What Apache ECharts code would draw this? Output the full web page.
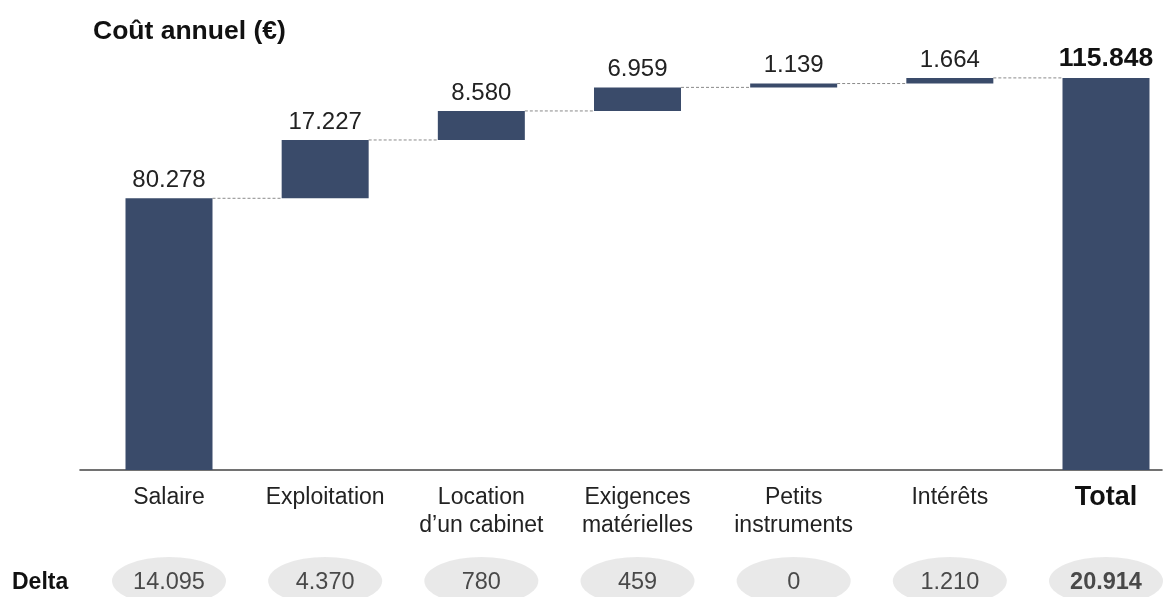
<!DOCTYPE html>
<html>
<head>
<meta charset="utf-8">
<script src="https://cdn.jsdelivr.net/npm/echarts@6/dist/echarts.min.js"></script>
<style>html,body{margin:0;padding:0;background:#fff}#c{width:1167px;height:597px}</style>
</head>
<body>
<div id="c"></div>
<script>
var categories = ["Salaire", "Exploitation", "Location\nd’un cabinet", "Exigences\nmatérielles", "Petits\ninstruments", "Intérêts", "Total"];
var increments = [80278, 17227, 8580, 6959, 1139, 1664];
var totalValue = 115848;
var deltas = [14095, 4370, 780, 459, 0, 1210, 20914];

function fmt(v) { return String(v).replace(/\B(?=(\d{3})+(?!\d))/g, "."); }

var FONT = "'Liberation Sans', Arial, sans-serif";
var BAR = "#3a4b6a";

var base = [], visible = [], tops = [];
var cum = 0;
for (var i = 0; i < increments.length; i++) {
  base.push(cum);
  visible.push(increments[i]);
  cum += increments[i];
  tops.push(cum);
}
base.push(0);
visible.push({ value: totalValue, label: { fontWeight: "bold", fontSize: 26.5, color: "#111" } });

var connectors = [];
for (var j = 0; j < tops.length; j++) connectors.push([j, tops[j]]);

var catData = categories.map(function (c, k) {
  if (k === categories.length - 1) return { value: c, textStyle: { fontWeight: "bold", fontSize: 27, color: "#111" } };
  return c;
});

var deltaData = deltas.map(function (d, k) {
  var item = { value: [k, 0.5], label: { formatter: fmt(d) } };
  if (k === deltas.length - 1) item.label.fontWeight = "bold";
  return item;
});

var chart = echarts.init(document.getElementById("c"), null, { renderer: "canvas" });
chart.setOption({
  animation: false,
  textStyle: { fontFamily: FONT },
  title: [
    { text: "Coût annuel (€)", left: 93, top: 18, padding: 0, textStyle: { fontFamily: FONT, fontSize: 26.5, fontWeight: "bold", color: "#111" } },
    { text: "Delta", left: 12, top: 571, padding: 0, textStyle: { fontFamily: FONT, fontSize: 23, fontWeight: "bold", color: "#111" } }
  ],
  grid: [
    { left: 169, width: 937, top: 30, height: 440 },
    { left: 169, width: 937, top: 571, height: 20 },
    { left: 80, width: 1082, top: 30, height: 440 }
  ],
  xAxis: [
    { type: "category", gridIndex: 0, data: catData, boundaryGap: false, axisLine: { show: false }, axisTick: { show: false },
      axisLabel: { fontFamily: FONT, fontSize: 23, color: "#222", lineHeight: 28, margin: 14, interval: 0 } },
    { type: "category", gridIndex: 1, data: categories, boundaryGap: false, show: false },
    { type: "value", gridIndex: 2, min: 0, max: 1, axisLine: { show: true, lineStyle: { color: "#444", width: 1.6 } },
      axisTick: { show: false }, axisLabel: { show: false }, splitLine: { show: false } }
  ],
  yAxis: [
    { type: "value", gridIndex: 0, min: 0, max: 130000, show: false, splitLine: { show: false } },
    { type: "value", gridIndex: 1, min: 0, max: 1, show: false },
    { type: "value", gridIndex: 2, min: 0, max: 1, show: false }
  ],
  series: [
    { type: "bar", xAxisIndex: 0, yAxisIndex: 0, stack: "w", data: base, barWidth: 87,
      itemStyle: { color: "transparent" }, silent: true },
    { type: "bar", xAxisIndex: 0, yAxisIndex: 0, stack: "w", data: visible, barWidth: 87,
      itemStyle: { color: BAR },
      label: { show: true, position: "top", distance: 6, fontFamily: FONT, fontSize: 24, color: "#222",
        formatter: function (p) { return fmt(p.value); } } },
    { type: "custom", xAxisIndex: 0, yAxisIndex: 0, data: connectors, silent: true,
      renderItem: function (params, api) {
        var i = api.value(0), v = api.value(1);
        var p1 = api.coord([i, v]), p2 = api.coord([i + 1, v]);
        var half = 43.5;
        return { type: "line", shape: { x1: p1[0] + half, y1: p1[1], x2: p2[0] - half, y2: p2[1] },
          style: { stroke: "#8a8a8a", lineWidth: 1, lineDash: [3, 2] } };
      } },
    { type: "scatter", xAxisIndex: 1, yAxisIndex: 1, data: deltaData, symbol: "circle", symbolSize: [114, 48],
      itemStyle: { color: "#e3e3e3" },
      label: { show: true, position: "inside", offset: [0, 2], fontFamily: FONT, fontSize: 23.5, color: "#222" } }
  ]
});
</script>
</body>
</html>
